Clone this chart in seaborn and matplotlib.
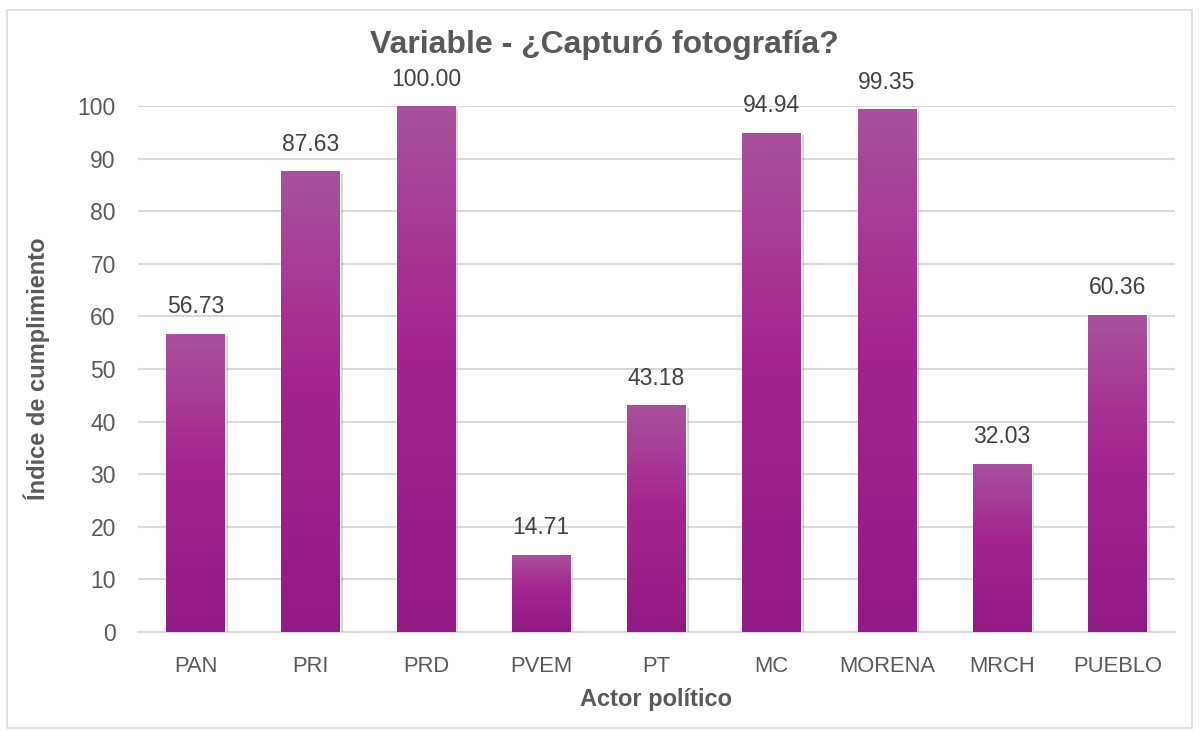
import numpy as np
import matplotlib
matplotlib.use("Agg")
import matplotlib.pyplot as plt
import seaborn as sns
from matplotlib.colors import LinearSegmentedColormap
from matplotlib.patches import Rectangle
from matplotlib import patheffects as pe

# Data
actores = ["PAN", "PRI", "PRD", "PVEM", "PT", "MC", "MORENA", "MRCH", "PUEBLO"]
indice = [56.73, 87.63, 100.00, 14.71, 43.18, 94.94, 99.35, 32.03, 60.36]
y_ticks = [0, 10, 20, 30, 40, 50, 60, 70, 80, 90, 100]

sns.set_theme(style="white")
plt.rcParams["font.family"] = ["Liberation Sans", "DejaVu Sans"]

gris = "#595959"
fig = plt.figure(figsize=(11.99, 7.31), dpi=100)
ax = fig.add_axes([138 / 1199, 1 - 632 / 731, (1175 - 138) / 1199, (632 - 106) / 731])

sns.barplot(x=actores, y=indice, color="#A5238F", width=0.51, ax=ax, zorder=3)

# vertical gradient on each bar (lighter top, deeper bottom)
grad_cmap = LinearSegmentedColormap.from_list(
    "barra", [(0.0, "#921A85"), (0.55, "#A5248F"), (1.0, "#A9519D")])
grad = np.linspace(0, 1, 256).reshape(-1, 1)
for p in ax.patches:
    p.set_path_effects([pe.SimplePatchShadow(offset=(2, -2), alpha=0.35, shadow_rgbFace="#7f7f7f"), pe.Normal()])
    x0, w, h = p.get_x(), p.get_width(), p.get_height()
    im = ax.imshow(grad, extent=[x0, x0 + w, 0, h], origin="lower", cmap=grad_cmap,
                   aspect="auto", zorder=4, interpolation="bilinear")
    im.set_clip_path(p)

ax.set_xlim(-0.5, len(actores) - 0.5)
ax.set_ylim(0, 100)
ax.set_yticks(y_ticks)

for c in ax.containers:
    labels = ax.bar_label(c, fmt="%.2f", padding=11, fontsize=16.5, color="#404040", zorder=5)
    for t in labels:
        t.set_clip_on(False)

ax.yaxis.grid(True, color="#D9D9D9", linewidth=1.5, zorder=0)
ax.set_axisbelow(True)
for s in ["top", "right", "left"]:
    ax.spines[s].set_visible(False)
ax.spines["bottom"].set_color("#D9D9D9")
ax.spines["bottom"].set_linewidth(1.5)

ax.tick_params(axis="y", length=0, pad=16, labelsize=16.5, labelcolor=gris)
ax.tick_params(axis="x", length=0, pad=17, labelsize=15.8, labelcolor=gris)

ax.set_xlabel("Actor político", fontsize=17, fontweight="bold", color=gris, labelpad=8)
ax.set_ylabel("Índice de cumplimiento", fontsize=17, fontweight="bold", color=gris, labelpad=20)

fig.text(0.504, 1 - 45 / 731, "Variable - ¿Capturó fotografía?", ha="center", va="center",
         fontsize=23, fontweight="bold", color=gris)

fig.patches.append(Rectangle((7 / 1199, 1 - 728 / 731), (1192 - 7) / 1199, (728 - 10) / 731,
                             transform=fig.transFigure, fill=False, edgecolor="#D9D9D9",
                             linewidth=1.2, zorder=0))

fig.savefig("out.png", dpi=100, facecolor="white")
